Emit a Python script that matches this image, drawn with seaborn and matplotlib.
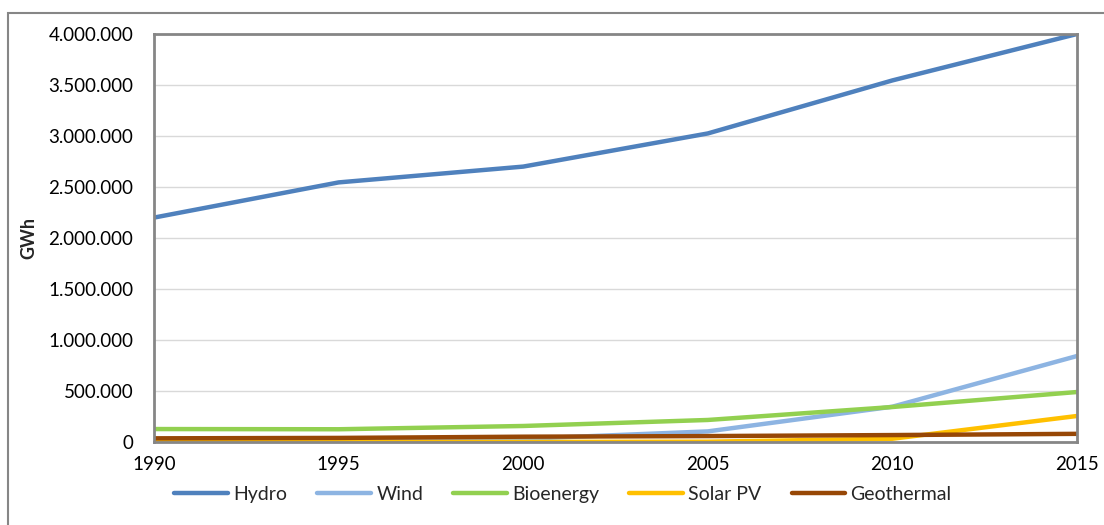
import numpy as np
import pandas as pd
import matplotlib
matplotlib.use("Agg")
import matplotlib.pyplot as plt
from matplotlib.patches import Rectangle
from matplotlib.ticker import FuncFormatter
import seaborn as sns

years = [1990, 1995, 2000, 2005, 2010, 2015]
hydro = [2200000, 2545000, 2700000, 3025000, 3545000, 4000000]
wind = [4000, 8000, 31000, 104000, 346000, 843000]
bioenergy = [127000, 125000, 157000, 216000, 343000, 490000]
solar_pv = [1000, 1000, 1000, 3000, 32000, 255000]
geothermal = [36000, 40000, 52000, 58000, 68000, 80000]

series_names = ["Hydro", "Wind", "Bioenergy", "Solar PV", "Geothermal"]
colors = ["#4F81BD", "#8DB4E2", "#92D050", "#FFC000", "#974706"]

# long form table for seaborn
df = pd.DataFrame({
    "year": years * 5,
    "GWh": hydro + wind + bioenergy + solar_pv + geothermal,
    "source": [n for n in series_names for _ in years],
})

sns.set_style("white")
plt.rcParams["font.family"] = ["Lato", "DejaVu Sans"]

fig = plt.figure(figsize=(11.04, 5.25), dpi=100)
ax = fig.add_axes([154 / 1104, 1 - 442 / 525, (1077 - 154) / 1104, (442 - 34) / 525])

# outer chart frame (clipped on right and bottom like the original)
fig.patches.append(Rectangle((8 / 1104, -0.1), 1.2, 1 - 13 / 525 + 0.1,
                             transform=fig.transFigure, fill=False,
                             edgecolor="#868686", linewidth=1.5))

sns.lineplot(data=df, x="year", y="GWh", hue="source", hue_order=series_names,
             palette=colors, linewidth=3.2, ax=ax, legend=False)

ax.set_xlim(1990, 2015)
ax.set_ylim(0, 4000000)
ax.set_xticks(years)
ax.set_yticks(np.arange(0, 4000001, 500000))
ax.yaxis.set_major_formatter(FuncFormatter(lambda v, p: f"{int(v):,}".replace(",", ".")))
ax.tick_params(axis="both", labelsize=13.5, length=0, colors="black")
ax.tick_params(axis="x", pad=10)
ax.tick_params(axis="y", pad=15)
ax.grid(axis="y", color="#d9d9d9", linewidth=1)
ax.set_axisbelow(True)
for s in ax.spines.values():
    s.set_visible(True)
    s.set_color("#868686")
    s.set_linewidth(2)
ax.set_xlabel("")
ax.set_ylabel("GWh", fontsize=13, fontweight="bold", labelpad=8)

handles = [plt.Line2D([], [], color=c, linewidth=3.2) for c in colors]
fig.legend(handles, series_names, loc="center", bbox_to_anchor=(0.51, 0.059),
           ncol=5, frameon=False, fontsize=14, handlelength=2.75,
           columnspacing=1.55, handletextpad=0.28)

plt.savefig("out.png", dpi=100)
